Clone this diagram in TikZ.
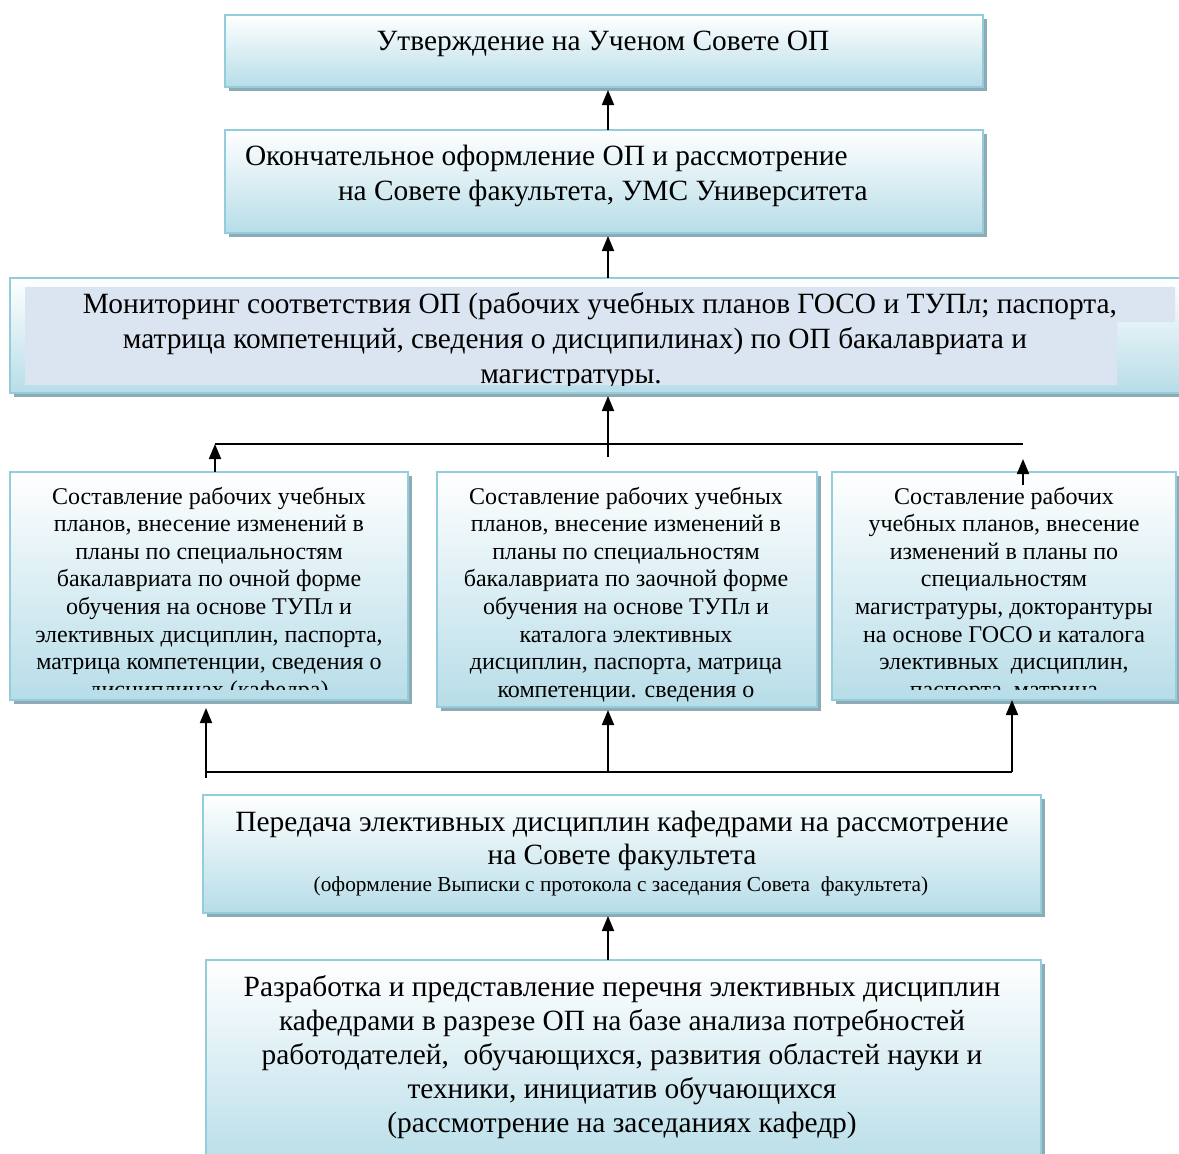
\documentclass[tikz,border=0pt]{standalone}
\usepackage{fontspec}
\setmainfont{Liberation Serif}
\usetikzlibrary{arrows.meta,shadows}
\definecolor{boxborder}{HTML}{93CDDC}
\definecolor{boxbot}{HTML}{B7DDE8}
\definecolor{shadowc}{HTML}{8EAAB4}
\definecolor{innerc}{HTML}{DBE5F1}
\tikzset{
  pbox/.style={draw=boxborder, line width=2pt, top color=white, bottom color=boxbot,
    drop shadow={shadow xshift=4pt, shadow yshift=-4pt, fill=shadowc, opacity=1},
    inner sep=0pt, outer sep=0pt, anchor=north west},
  txt/.style={inner sep=0pt, outer sep=0pt, font=\fontsize{29.4}{35}\selectfont},
  txtd/.style={inner sep=0pt, outer sep=0pt, font=\fontsize{24}{27.6}\selectfont},
  txts/.style={inner sep=0pt, outer sep=0pt, font=\fontsize{21.3}{24}\selectfont},
  arr/.style={-{Triangle[width=12pt,length=15pt]}, line width=1.8pt, black},
  ln/.style={line width=2pt, black}
}
\newcommand\pboxat[5]{\node[pbox, minimum width={#4-#2}, minimum height={#5-#3}] (#1) at (#2,#3) {};}
\newcommand\txtlines[6]{\foreach \t [count=\i] in {#6} \node[#2, anchor=base] (#1-\i) at (#3, {#4+(\i-1)*#5}) {\t};}
\begin{document}
\begin{tikzpicture}[x=1pt,y=-1pt]
\useasboundingbox (0,0) rectangle (1179,1154);
\fill[white] (0,0) rectangle (1179,1154);
\coordinate (m) at (608,0);
% boxes
\pboxat{A}{225}{15}{983}{87}
\pboxat{B}{225}{130}{983}{233}
\pboxat{C}{10}{278}{1200}{393}
\pboxat{D1}{10}{472}{408}{700}
\pboxat{D2}{437}{472}{817}{707}
\pboxat{D3}{832}{472}{1176}{700}
\pboxat{E}{203}{795}{1041}{913}
\pboxat{F}{206}{960}{1041}{1170}
% inner text frame of C
\fill[innerc] (25,287) -- (1175,287) -- (1175,322) -- (1117,322) -- (1117,385) -- (25,385) -- cycle;
% texts
\node[txt, anchor=base] (tA) at (603,50) {Утверждение на Ученом Совете ОП};
\node[txt, anchor=base west] (tB1) at (245,165) {Окончательное оформление ОП и рассмотрение};
\node[txt, anchor=base west] (tB2) at (338,200) {на Совете факультета, УМС Университета};
\begin{scope}
\clip (25,287) -- (1175,287) -- (1175,322) -- (1117,322) -- (1117,385) -- (25,385) -- cycle;
\node[txt, anchor=base] (tC1) at (600,313) {Мониторинг соответствия ОП (рабочих учебных планов ГОСО и ТУПл; паспорта,};
\node[txt, anchor=base] (tC2) at (575,348) {матрица компетенций, сведения о дисципилинах) по ОП бакалавриата и};
\node[txt, anchor=base] (tC3) at (571,383) {магистратуры.};
\end{scope}
\begin{scope}
\clip (10,472) rectangle (408,689);
\txtlines{tD1}{txtd}{209}{504}{27.6}{{Составление рабочих учебных},{планов, внесение изменений в},{планы по специальностям},{бакалавриата по очной форме},{обучения на основе ТУПл и},{элективных дисциплин, паспорта,},{матрица компетенции, сведения о},{дисциплинах (кафедра)}}
\end{scope}
\begin{scope}
\clip (437,472) rectangle (817,701);
\txtlines{tD2}{txtd}{626}{504}{27.6}{{Составление рабочих учебных},{планов, внесение изменений в},{планы по специальностям},{бакалавриата по заочной форме},{обучения на основе ТУПл и},{каталога элективных},{дисциплин, паспорта, матрица},{компетенции. сведения о}}
\end{scope}
\begin{scope}
\clip (832,472) rectangle (1176,689);
\txtlines{tD3}{txtd}{1004}{504}{27.6}{{Составление рабочих},{учебных планов, внесение},{изменений в планы по},{специальностям},{магистратуры, докторантуры},{на основе ГОСО и каталога},{элективных~ дисциплин,},{паспорта, матрица}}
\end{scope}
\node[txt, anchor=base] (tE1) at (622,831) {Передача элективных дисциплин кафедрами на рассмотрение};
\node[txt, anchor=base] (tE2) at (622,864) {на Совете факультета};
\node[txts, anchor=base] (tE3) at (621,891) {(оформление Выписки с протокола с заседания Совета~ факультета)};
\txtlines{tF}{txt}{622}{996}{34}{{Разработка и представление перечня элективных дисциплин},{кафедрами в разрезе ОП на базе анализа потребностей},{работодателей,~ обучающихся, развития областей науки и},{техники, инициатив обучающихся},{(рассмотрение на заседаниях кафедр)}}
% connectors
\draw[arr] (B.north -| m) -- ([yshift=-3pt]A.south -| m);
\draw[arr] (C.north -| m) -- ([yshift=-3pt]B.south -| m);
\coordinate (j) at (608,457);
\draw[arr] (j) -- ([yshift=-3pt]C.south -| j);
\coordinate (hl) at (215,444);
\coordinate (hr) at (1023,444);
\draw[ln] (hl) -- (hr);
\draw[arr] (D1.north -| hl) -- (hl);
\coordinate (r1) at (1023,485);
\coordinate (r2) at (1023,459);
\draw[arr] (r1) -- (r2);
\coordinate (bl) at (206,772);
\coordinate (br) at (1012,772);
\coordinate (bl0) at (206,778);
\draw[ln] (bl) -- (br);
\draw[arr] (bl0) -- ([yshift=-8pt]D1.south -| bl);
\draw[arr] (bl -| m) -- ([yshift=-3pt]D2.south -| m);
\draw[arr] (br) -- (D3.south -| br);
\draw[arr] (F.north -| m) -- ([yshift=-3pt]E.south -| m);
\end{tikzpicture}
\end{document}
